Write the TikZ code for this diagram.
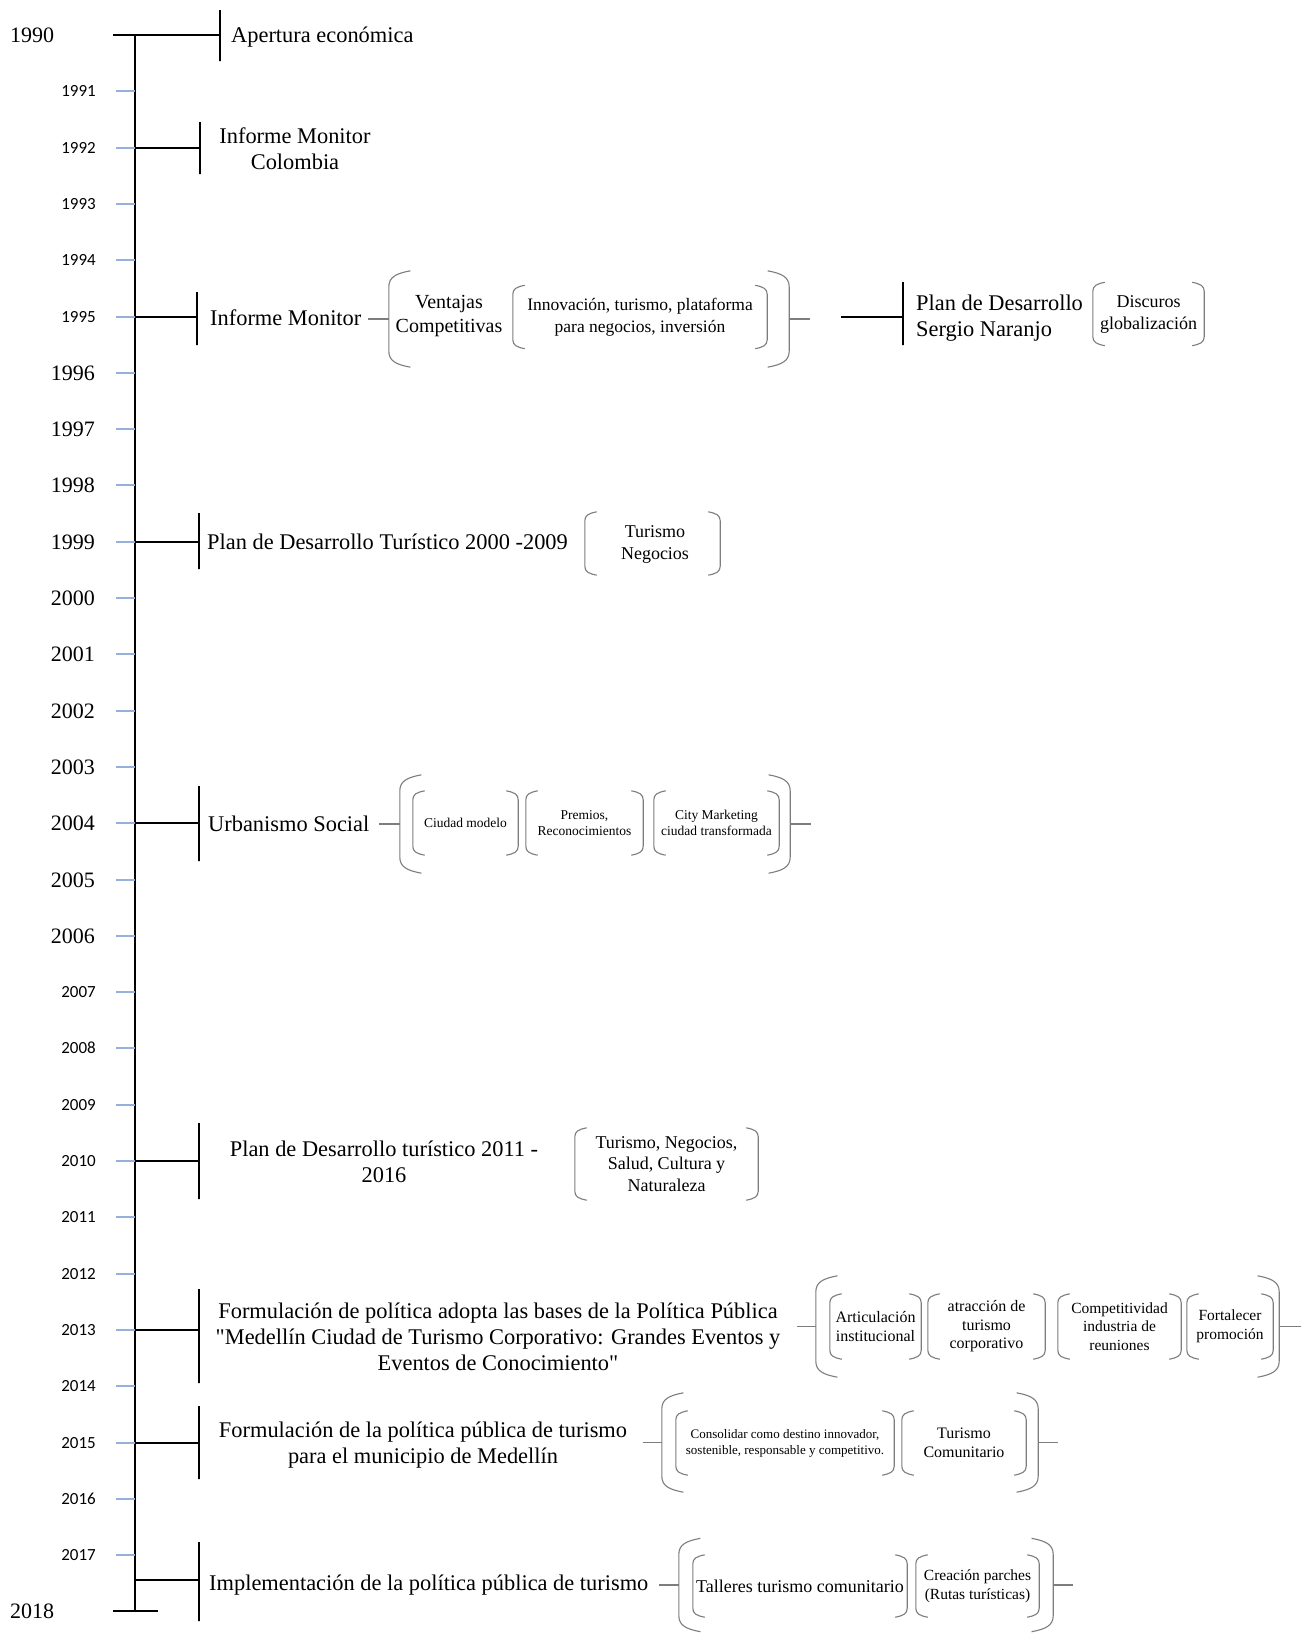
\documentclass[tikz,border=0pt]{standalone}
\usepackage{fontspec}
\setmainfont{Liberation Serif}
\newfontfamily\calfont{Carlito}
\newfontfamily\qfont{Liberation Serif}
\definecolor{tickblue}{RGB}{149,176,218}
\definecolor{brkgray}{RGB}{125,125,125}
\newcommand\fs[2]{\fontsize{#1}{#2}\selectfont}
\newcommand\sq{{\qfont"}}
\tikzset{
  yrsans/.style={font=\calfont\fs{17}{20}, anchor=east, inner sep=0pt},
  yrserif/.style={font=\fs{22}{26}, anchor=east, inner sep=0pt},
  ticklin/.style={draw=tickblue, line width=1.6pt},
  axisline/.style={line width=1.8pt},
  evline/.style={line width=1.8pt},
  evbar/.style={draw, line width=1.8pt, minimum width=0pt, inner sep=0pt},
  evtext/.style={font=\fs{22.4}{26}, inner sep=0pt, align=center},
  box/.style={inner sep=0pt, align=center},
  brkline/.style={draw=brkgray, line width=1.1pt},
  conn/.style={draw=brkgray, line width=1.1pt},
}
% #1 node, #2 corner size
\newcommand\brk[2]{%
  \draw[brkline] ([xshift=1.2*#2pt]#1.north west) .. controls ([xshift=0.4*#2pt,yshift=-0.15*#2pt]#1.north west) and ([yshift=-0.35*#2pt]#1.north west) .. ([yshift=-0.9*#2pt]#1.north west)
     -- ([yshift=0.9*#2pt]#1.south west) .. controls ([yshift=0.35*#2pt]#1.south west) and ([xshift=0.4*#2pt,yshift=0.15*#2pt]#1.south west) .. ([xshift=1.2*#2pt]#1.south west);
  \draw[brkline] ([xshift=-1.2*#2pt]#1.north east) .. controls ([xshift=-0.4*#2pt,yshift=-0.15*#2pt]#1.north east) and ([yshift=-0.35*#2pt]#1.north east) .. ([yshift=-0.9*#2pt]#1.north east)
     -- ([yshift=0.9*#2pt]#1.south east) .. controls ([yshift=0.35*#2pt]#1.south east) and ([xshift=-0.4*#2pt,yshift=0.15*#2pt]#1.south east) .. ([xshift=-1.2*#2pt]#1.south east);
}
\begin{document}
\begin{tikzpicture}[x=1pt,y=-1pt]
\useasboundingbox (0,0) rectangle (1308,1633);
\fill[white] (0,0) rectangle (1308,1633);

% ---- timeline axis
\coordinate (tl1990) at (135,35);
\coordinate (tl2018) at (135,1611);
\coordinate (s1990) at (113,35);
\coordinate (s2018) at (113,1611);
\coordinate (e2018) at (158,1611);
\draw[axisline] (tl1990) -- (tl2018);

% ---- ticks and year labels
\foreach \yr in {1991,...,2017}{
  \pgfmathsetmacro\yy{round(35+56.3*(\yr-1990))}
  \coordinate (tl\yr) at (135,\yy);
  \draw[ticklin] (116,\yy) -- (tl\yr);
}
\foreach \yr in {1991,...,1995}{
  \pgfmathsetmacro\yy{round(35+56.3*(\yr-1990))}
  \node[yrsans] (y\yr) at (96,\yy) {\yr};
}
\foreach \yr in {2007,...,2017}{
  \pgfmathsetmacro\yy{round(35+56.3*(\yr-1990))}
  \node[yrsans] (y\yr) at (96,\yy) {\yr};
}
\foreach \yr in {1996,...,2006}{
  \pgfmathsetmacro\yy{round(35+56.3*(\yr-1990))}
  \node[yrserif] (y\yr) at (95,\yy) {\yr};
}
\node[yrserif, anchor=west] (y1990) at (10,35) {1990};
\node[yrserif, anchor=west] (y2018) at (10,1611) {2018};
\draw[evline] (s2018) -- (e2018);

% ---- 1990 Apertura
\node[evbar, minimum height=51pt] (bar1) at (220,35.5) {};
\draw[evline] (s1990) -- (s1990 -| bar1.west);
\node[evtext, anchor=west] (t1) at (231,37) {Apertura económica};

% ---- 1992 Informe Monitor Colombia
\node[evbar, minimum height=52pt] (bar2) at (200,148) {};
\draw[evline] (tl1992) -- (tl1992 -| bar2.west);
\node[evtext] (t2) at (295,149) {Informe Monitor\\Colombia};

% ---- 1995 Informe Monitor
\node[evbar, minimum height=53pt] (bar3) at (197,318.5) {};
\draw[evline] (tl1995) -- (tl1995 -| bar3.west);
\node[evtext, anchor=west] (t3) at (210,317.5) {Informe Monitor};
\node[box, minimum width=400pt, minimum height=96pt] (b3) at (589,319) {};
\brk{b3}{18}
\draw[conn] (b3.west) -- ++(-21,0);
\draw[conn] (b3.east) -- ++(21,0);
\node[box, font=\fs{20}{24}] (b3a) at (449,316) {Ventajas\\Competitivas};
\node[box, minimum width=254pt, minimum height=63pt, font=\fs{17.5}{22}] (b3b) at (640,317) {Innovación, turismo, plataforma\\para negocios, inversión};
\brk{b3b}{10}

% ---- Plan de Desarrollo Sergio Naranjo
\coordinate (sn) at (841,317);
\node[evbar, minimum height=63pt] (bar3s) at (903,313.5) {};
\draw[evline] (sn) -- (sn -| bar3s.west);
\node[evtext, anchor=west, align=left] (t3s) at (916,318) {Plan de Desarrollo\\Sergio Naranjo};
\node[box, minimum width=111pt, minimum height=63pt, font=\fs{18}{22}] (b3s) at (1148.5,314) {Discuros\\globalización};
\brk{b3s}{10}

% ---- 1999 Plan de Desarrollo Turistico
\node[evbar, minimum height=56pt] (bar4) at (199,541) {};
\draw[evline] (tl1999) -- (tl1999 -| bar4.west);
\node[evtext, anchor=west] (t4) at (207,542) {Plan de Desarrollo Turístico 2000 -2009};
\node[box, minimum width=135pt, minimum height=63pt] (b4) at (652.5,543.5) {};
\node[box, font=\fs{18}{22}] (b4t) at (655,544) {Turismo\\Negocios};
\brk{b4}{10}

% ---- 2004 Urbanismo Social
\node[evbar, minimum height=75pt] (bar5) at (199,823.5) {};
\draw[evline] (tl2004) -- (tl2004 -| bar5.west);
\node[evtext, anchor=west] (t5) at (208,824) {Urbanismo Social};
\node[box, minimum width=390pt, minimum height=98pt] (b5) at (595,824) {};
\brk{b5}{18}
\draw[conn] (b5.west) -- ++(-21,0);
\draw[conn] (b5.east) -- ++(21,0);
\node[box, minimum width=105pt, minimum height=64pt, font=\fs{13.5}{16}] (b5a) at (465.5,823) {Ciudad modelo};
\node[box, minimum width=117pt, minimum height=64pt, font=\fs{13.5}{16}] (b5b) at (584.5,823) {Premios,\\Reconocimientos};
\node[box, minimum width=125pt, minimum height=64pt, font=\fs{13.5}{16}] (b5c) at (716.5,823) {City Marketing\\ciudad transformada};
\brk{b5a}{10}\brk{b5b}{10}\brk{b5c}{10}

% ---- 2010 Plan de Desarrollo turistico 2011-2016
\node[evbar, minimum height=76pt] (bar6) at (199,1161) {};
\draw[evline] (tl2010) -- (tl2010 -| bar6.west);
\node[evtext] (t6) at (384,1162) {Plan de Desarrollo turístico 2011 -\\2016};
\node[box, minimum width=183pt, minimum height=72pt, font=\fs{18}{21.5}] (b6) at (666.5,1164) {Turismo, Negocios,\\Salud, Cultura y\\Naturaleza};
\brk{b6}{10}

% ---- 2013 Formulacion politica turismo corporativo
\node[evbar, minimum height=94pt] (bar7) at (199,1336) {};
\draw[evline] (tl2013) -- (tl2013 -| bar7.west);
\node[evtext] (t7) at (498,1337) {Formulación de política adopta las bases de la Política Pública\\\sq Medellín Ciudad de Turismo Corporativo: Grandes Eventos y\\Eventos de Conocimiento\sq};
\node[box, minimum width=463pt, minimum height=101pt] (b7) at (1047.5,1326.5) {};
\brk{b7}{18}
\draw[conn] (b7.west) -- ++(-19,0);
\draw[conn] (b7.east) -- ++(22,0);
\node[box, minimum width=91pt, minimum height=65pt, font=\fs{16}{19}] (b7a) at (875.5,1326.5) {Articulación\\institucional};
\node[box, minimum width=117pt, minimum height=65pt, font=\fs{16}{18.5}] (b7b) at (986.5,1326.5) {atracción de\\turismo\\corporativo};
\node[box, minimum width=123pt, minimum height=65pt, font=\fs{15.5}{18.5}] (b7c) at (1119.5,1326.5) {Competitividad\\industria de\\reuniones};
\node[box, minimum width=86pt, minimum height=65pt, font=\fs{15.5}{19}] (b7d) at (1230,1326.5) {Fortalecer\\promoción};
\brk{b7a}{10}\brk{b7b}{10}\brk{b7c}{10}\brk{b7d}{10}

% ---- 2015 Formulacion politica publica
\node[evbar, minimum height=73pt] (bar8) at (199,1442.5) {};
\draw[evline] (tl2015) -- (tl2015 -| bar8.west);
\node[evtext] (t8) at (423,1445) {Formulación de la política pública de turismo\\para el municipio de Medellín};
\node[box, minimum width=376pt, minimum height=99pt] (b8) at (850,1442.5) {};
\brk{b8}{18}
\draw[conn] (b8.west) -- ++(-19,0);
\draw[conn] (b8.east) -- ++(20,0);
\node[box, minimum width=218pt, minimum height=64pt, font=\fs{13}{16}] (b8a) at (785,1443) {Consolidar como destino innovador,\\sostenible, responsable y competitivo.};
\node[box, minimum width=124pt, minimum height=64pt, font=\fs{16}{19}] (b8b) at (964,1443) {Turismo\\Comunitario};
\brk{b8a}{10}\brk{b8b}{10}

% ---- 2017 Implementacion
\coordinate (tl9) at (135,1580);
\node[evbar, minimum height=79pt] (bar9) at (199,1581.5) {};
\draw[evline] (tl9) -- (tl9 -| bar9.west);
\node[evtext, anchor=west] (t9) at (209,1585) {Implementación de la política pública de turismo};
\node[box, minimum width=374pt, minimum height=93pt] (b9) at (866,1585) {};
\brk{b9}{18}
\draw[conn] (b9.west) -- ++(-20,0);
\draw[conn] (b9.east) -- ++(20,0);
\node[box, minimum width=214pt, minimum height=62pt, font=\fs{18}{21}] (b9a) at (800,1586) {Talleres turismo comunitario};
\node[box, minimum width=123pt, minimum height=62pt, font=\fs{15.5}{18.5}] (b9b) at (977.5,1586) {Creación parches\\(Rutas turísticas)};
\brk{b9a}{10}\brk{b9b}{10}
\end{tikzpicture}
\end{document}
